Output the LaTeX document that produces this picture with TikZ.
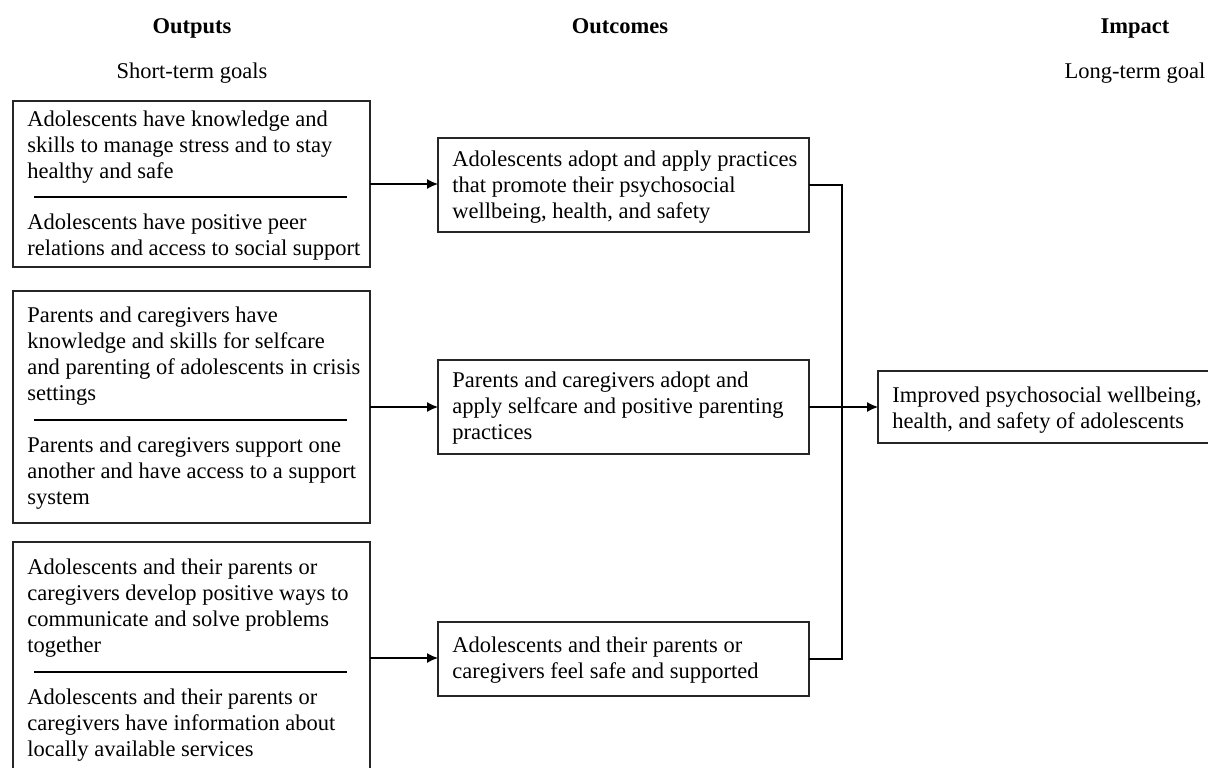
\documentclass[tikz,border=0pt]{standalone}
\usepackage{fontspec}
\setmainfont{Liberation Serif}
\usetikzlibrary{arrows.meta}
\tikzset{
  box/.style={draw=black!85, line width=0.7pt, inner sep=0pt, outer sep=0pt, anchor=north west},
  txt/.style={align=left, inner sep=0pt, anchor=north west,
    font=\fontsize{11.25}{13}\selectfont, execute at begin node=\strut},
  head/.style={inner sep=0pt, anchor=base, font=\fontsize{11.25}{13}\selectfont\bfseries},
  subhead/.style={inner sep=0pt, anchor=base, font=\fontsize{11.25}{13}\selectfont},
  arr/.style={-{Latex[length=5.5pt,width=5pt]}, line width=0.6pt}
}
\begin{document}
\begin{tikzpicture}[x=0.5pt, y=-0.5pt]
  \useasboundingbox (0,0) rectangle (1208,767);
  % column heads
  \node[head] (hout) at (192,33) {Outputs};
  \node[head] (hcome) at (620,33) {Outcomes};
  \node[head] (himp) at (1135,33) {Impact};
  \node[subhead] (hshort) at (192,78) {Short-term goals};
  \node[subhead] (hlong) at (1135,78) {Long-term goal};
  % outputs
  \node[box, minimum width=178.5pt, minimum height=83pt] (in1) at (13,101) {};
  \node[txt] (in1a) at (27,110) {Adolescents have knowledge and\\skills to manage stress and to stay\\healthy and safe};
  \node[txt] (in1b) at (27,213) {Adolescents have positive peer\\relations and access to social support};
  \draw[line width=0.6pt] (34,197) -- (347,197);
  \node[box, minimum width=178.5pt, minimum height=116pt] (in2) at (13,291) {};
  \node[txt] (in2a) at (27,306) {Parents and caregivers have\\knowledge and skills for selfcare\\and parenting of adolescents in crisis\\settings};
  \node[txt] (in2b) at (27,436) {Parents and caregivers support one\\another and have access to a support\\system};
  \draw[line width=0.6pt] (34,420) -- (347,420);
  \node[box, minimum width=178.5pt, minimum height=116pt] (in3) at (13,542) {};
  \node[txt] (in3a) at (27,558) {Adolescents and their parents or\\caregivers develop positive ways to\\communicate and solve problems\\together};
  \node[txt] (in3b) at (27,688) {Adolescents and their parents or\\caregivers have information about\\locally available services};
  \draw[line width=0.6pt] (34,672) -- (347,672);
  % outcomes
  \node[box, minimum width=185.5pt, minimum height=47pt] (out1) at (438,138) {};
  \node[txt] (out1t) at (452,150) {Adolescents adopt and apply practices\\that promote their psychosocial\\wellbeing, health, and safety};
  \node[box, minimum width=185.5pt, minimum height=47pt] (out2) at (438,360) {};
  \node[txt] (out2t) at (452,371) {Parents and caregivers adopt and\\apply selfcare and positive parenting\\practices};
  \node[box, minimum width=185.5pt, minimum height=37pt] (out3) at (438,622) {};
  \node[txt] (out3t) at (452,636) {Adolescents and their parents or\\caregivers feel safe and supported};
  % impact
  \node[box, minimum width=170pt, minimum height=36pt] (imp) at (878,371) {};
  \node[txt] (impt) at (892,386) {Improved psychosocial wellbeing,\\health, and safety of adolescents};
  % links
  \draw[arr] (in1.east) -- (in1.east -| out1.west);
  \draw[arr] (in2.east) -- (in2.east -| out2.west);
  \draw[arr] (in3.east) -- (in3.east -| out3.west);
  \draw[line width=0.6pt] (out1.east) -- ++(33,0) |- (out3.east);
  \draw[arr] (out2.east) -- (out2.east -| imp.west);
\end{tikzpicture}
\end{document}
